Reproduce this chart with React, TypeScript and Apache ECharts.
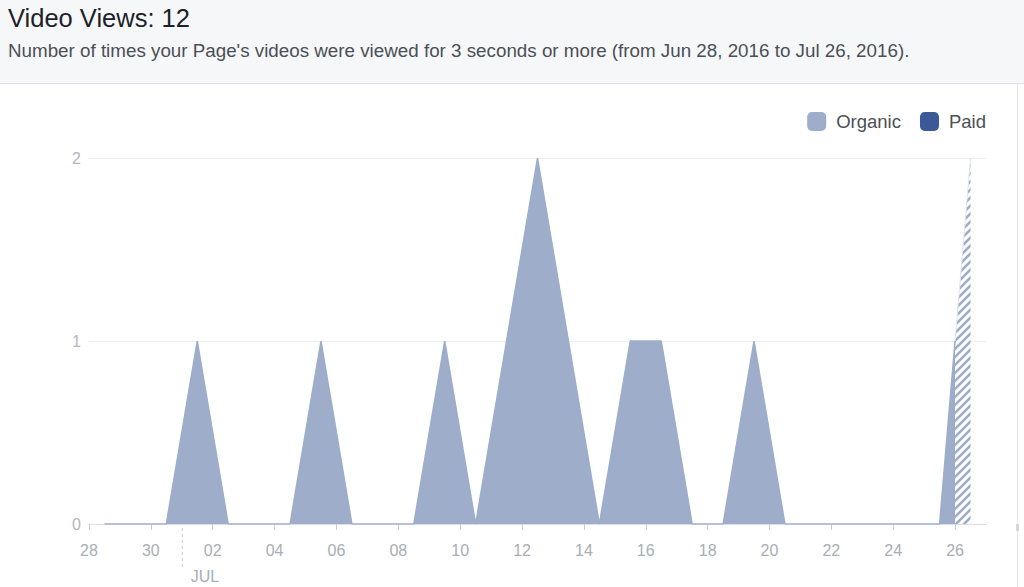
import React, { useEffect, useRef } from "react";
import * as echarts from "echarts";

// ---- data ----
const dayLabels = [
  "28", "29", "30", "01", "02", "03", "04", "05", "06", "07", "08", "09", "10", "11",
  "12", "13", "14", "15", "16", "17", "18", "19", "20", "21", "22", "23", "24", "25", "26",
];
const organic = [
  0, 0, 0, 1, 0, 0, 0, 1, 0, 0, 0, 1, 0, 1, 2, 1, 0, 1, 1, 0, 0, 1, 0, 0, 0, 0, 0, 0, 2,
];
const paid = [
  0, 0, 0, 0, 0, 0, 0, 0, 0, 0, 0, 0, 0, 0, 0, 0, 0, 0, 0, 0, 0, 0, 0, 0, 0, 0, 0, 0, 0,
];
const tickDays = [0, 2, 4, 6, 8, 10, 12, 14, 16, 18, 20, 22, 24, 26, 28];
const yTicks = [0, 1, 2];
const monthStartIndex = 3; // Jul 01
const monthLabel = "JUL";
const titleText = "Video Views: 12";
const subtitleText =
  "Number of times your Page's videos were viewed for 3 seconds or more (from Jun 28, 2016 to Jul 26, 2016).";

const FONT = "'Liberation Sans', Arial, Helvetica, sans-serif";
const ORGANIC = "#9dadca";
const PAID = "#3b5998";

function makeHatch(color: string) {
  const c = document.createElement("canvas");
  c.width = 8;
  c.height = 8;
  const ctx = c.getContext("2d")!;
  ctx.fillStyle = "#ffffff";
  ctx.fillRect(0, 0, 8, 8);
  ctx.strokeStyle = color;
  ctx.lineWidth = 2.6;
  ctx.beginPath();
  ctx.moveTo(-2, 10);
  ctx.lineTo(10, -2);
  ctx.moveTo(-2, 2);
  ctx.lineTo(2, -2);
  ctx.moveTo(6, 10);
  ctx.lineTo(10, 6);
  ctx.stroke();
  return c;
}

export default function App() {
  const ref = useRef<HTMLDivElement>(null);
  useEffect(() => {
    const chart = echarts.init(ref.current!, null, { renderer: "svg" });
    const last = organic.length - 1;
    // solid part runs to the start of the (incomplete) last day, hatched after
    const splitY = organic[last - 1] + (organic[last] - organic[last - 1]) * 0.5;
    const solidData: number[][] = organic.slice(0, last).map((v, i) => [i + 0.5, v]);
    solidData.push([last, splitY]);
    const partialData = [
      [last, splitY],
      [last + 0.5, organic[last]],
    ];

    chart.setOption({
      animation: false,
      graphic: [
        { id: "hdr", type: "rect", shape: { x: 0, y: 0, width: 1024, height: 83 }, style: { fill: "#f6f7f9" }, z: -10 },
        { id: "hdrline", type: "rect", shape: { x: 0, y: 83, width: 1024, height: 1 }, style: { fill: "#dddfe2" }, z: -9 },
        { id: "rborder", type: "rect", shape: { x: 1017, y: 84, width: 1, height: 503 }, style: { fill: "#e5e7ea" }, z: -9 },
        { id: "rscroll", type: "rect", shape: { x: 1016, y: 524, width: 3, height: 7 }, style: { fill: "#d3d6db" }, z: -9 },
        {
          id: "title", type: "text", x: 8, y: 18,
          style: { text: titleText, font: `25.5px ${FONT}`, fill: "#1d2129", verticalAlign: "middle", align: "left" },
        },
        {
          id: "sub", type: "text", x: 8, y: 50,
          style: { text: subtitleText, font: `18.8px ${FONT}`, fill: "#4b4f56", verticalAlign: "middle", align: "left" },
        },
      ],
      legend: {
        right: 38,
        top: 112,
        padding: 0,
        itemWidth: 19,
        itemHeight: 19,
        itemGap: 19,
        icon: "roundRect",
        textStyle: { fontSize: 18.5, color: "#4b4f56", fontFamily: FONT, padding: [0, 0, 0, 5] },
        data: [
          { name: "Organic", itemStyle: { color: ORGANIC } },
          { name: "Paid", itemStyle: { color: PAID } },
        ],
      },
      grid: { left: 89, right: 38, top: 158, bottom: 63, containLabel: false },
      xAxis: {
        type: "value",
        min: 0,
        max: dayLabels.length,
        interval: 2,
        axisLine: { show: true, lineStyle: { color: "#dddfe2", width: 1 } },
        axisTick: { show: true, length: 6, lineStyle: { color: "#c9cdd3" }, customValues: tickDays },
        axisLabel: {
          customValues: tickDays,
          formatter: (v: number) => dayLabels[Math.round(v)] ?? "",
          color: "#a8aeb6",
          fontSize: 16,
          fontFamily: FONT,
          margin: 18,
        },
        splitLine: { show: false },
      },
      yAxis: {
        type: "value",
        min: yTicks[0],
        max: yTicks[yTicks.length - 1],
        interval: 1,
        axisLine: { show: false },
        axisTick: { show: false },
        axisLabel: { color: "#b3b8bf", fontSize: 16, fontFamily: FONT, margin: 8 },
        splitLine: { lineStyle: { color: "#eceef1", width: 1 } },
      },
      series: [
        {
          name: "Paid",
          type: "line",
          data: paid.map((v, i) => [i + 0.5, v]),
          showSymbol: false,
          itemStyle: { color: PAID },
          lineStyle: { opacity: 0 },
          z: 1,
        },
        {
          name: "Organic",
          type: "line",
          data: solidData,
          showSymbol: false,
          itemStyle: { color: ORGANIC },
          lineStyle: { color: ORGANIC, width: 1.5 },
          areaStyle: { color: ORGANIC, opacity: 1 },
          z: 3,
        },
        {
          name: "Organic",
          type: "line",
          data: partialData,
          showSymbol: false,
          itemStyle: { color: ORGANIC },
          lineStyle: { color: "#dfe4ee", width: 1 },
          areaStyle: { color: { image: makeHatch(ORGANIC), repeat: "repeat" }, opacity: 1 },
          z: 3,
        },
      ],
    });

    const [mx, my] = chart.convertToPixel({ gridIndex: 0 }, [monthStartIndex, 0]) as number[];
    chart.setOption({
      graphic: [
        {
          id: "monthline", type: "line",
          shape: { x1: mx + 0.5, y1: my + 4, x2: mx + 0.5, y2: my + 44 },
          style: { stroke: "#c9cdd3", lineWidth: 1, lineDash: [3, 3] },
        },
        {
          id: "monthlabel", type: "text", x: mx + 9, y: my + 52,
          style: { text: monthLabel, font: `16px ${FONT}`, fill: "#a8aeb6", verticalAlign: "middle", align: "left" },
        },
      ],
    });

    return () => chart.dispose();
  }, []);
  return <div ref={ref} style={{ position: "absolute", left: 0, top: 0, width: 1024, height: 587, background: "#fff" }} />;
}
